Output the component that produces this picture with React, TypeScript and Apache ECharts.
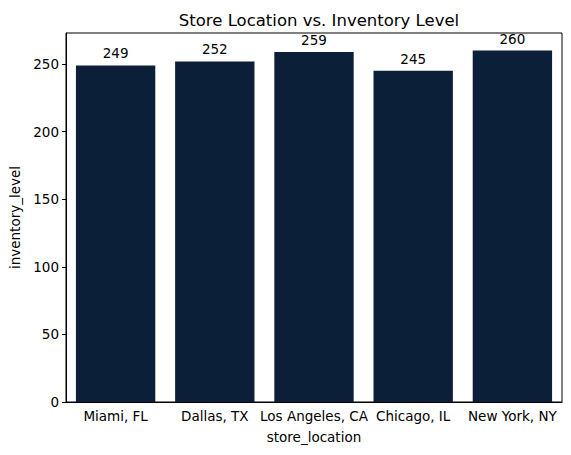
import React, { useEffect, useRef } from "react";
import * as echarts from "echarts";

const categories = ["Miami, FL", "Dallas, TX", "Los Angeles, CA", "Chicago, IL", "New York, NY"];
const inventory = [249, 252, 259, 245, 260];
const yTicks = [0, 50, 100, 150, 200, 250];

const FONT = "DejaVu Sans";

export default function App() {
  const ref = useRef<HTMLDivElement>(null);
  useEffect(() => {
    if (!ref.current) return;
    const chart = echarts.init(ref.current, undefined, { renderer: "svg" });
    chart.setOption({
      animation: false,
      backgroundColor: "#fff",
      textStyle: { fontFamily: FONT },
      title: {
        text: "Store Location vs. Inventory Level",
        left: 314,
        top: 7,
        textAlign: "center",
        textStyle: { fontFamily: FONT, fontSize: 16.5, fontWeight: "normal", color: "#000" },
      },
      grid: {
        left: 66,
        top: 33,
        right: 9,
        bottom: 53,
        show: true,
        borderColor: "#000",
        borderWidth: 1,
        backgroundColor: "transparent",
      },
      xAxis: {
        type: "category",
        data: categories,
        name: "store_location",
        nameLocation: "middle",
        nameGap: 28,
        nameTextStyle: { fontFamily: FONT, fontSize: 13.5, color: "#000" },
        axisLine: { lineStyle: { color: "#000", width: 1 } },
        axisTick: { alignWithLabel: true, length: 4, lineStyle: { color: "#000" } },
        axisLabel: { fontFamily: FONT, fontSize: 13.5, color: "#000", margin: 7, interval: 0 },
        splitLine: { show: false },
      },
      yAxis: {
        type: "value",
        min: 0,
        max: 273,
        interval: 50,
        name: "inventory_level",
        nameLocation: "middle",
        nameGap: 44,
        nameTextStyle: { fontFamily: FONT, fontSize: 13.5, color: "#000" },
        axisLine: { show: true, lineStyle: { color: "#000", width: 1 } },
        axisTick: { show: true, length: 4, lineStyle: { color: "#000" } },
        axisLabel: {
          fontFamily: FONT,
          fontSize: 13.5,
          color: "#000",
          margin: 7,
          showMaxLabel: false,
          formatter: (v: number) => (yTicks.includes(v) ? String(v) : ""),
        },
        splitLine: { show: false },
      },
      series: [
        {
          type: "bar",
          data: inventory,
          barCategoryGap: "20%",
          itemStyle: { color: "#0c1f39" },
          label: {
            show: true,
            position: "top",
            distance: 5,
            fontFamily: FONT,
            fontSize: 13.5,
            color: "#000",
          },
        },
      ],
    });
    return () => chart.dispose();
  }, []);
  return <div ref={ref} style={{ width: 571, height: 455, position: "absolute", left: 0, top: 0 }} />;
}
